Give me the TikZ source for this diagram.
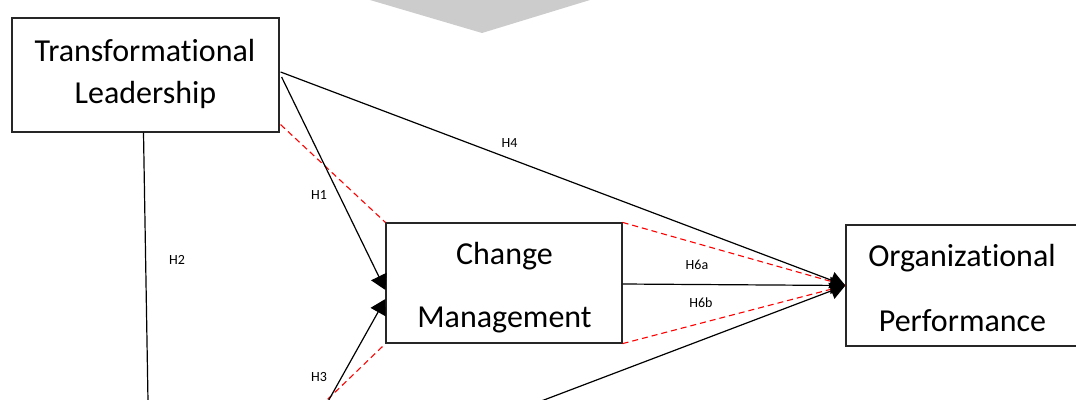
\documentclass[tikz,border=0pt]{standalone}
\usepackage{fontspec}
\setmainfont{Carlito}[Ligatures=NoCommon]
\usetikzlibrary{arrows.meta}
\tikzset{
  box/.style={draw=black!85, line width=1.2pt, inner sep=0pt},
  boxtext/.style={anchor=base, inner sep=0pt, font=\fontsize{32}{38}\selectfont},
  hlabel/.style={font=\fontsize{14}{16}\selectfont, text=black, inner sep=0pt},
  link/.style={draw=black, line width=1.2pt},
  arr/.style={-{Triangle[length=15pt,width=17pt]}},
  reddash/.style={draw=red, line width=1.1pt, dash pattern=on 6pt off 4pt},
  chev/.style={fill=gray!40},
}
\begin{document}
\begin{tikzpicture}[x=1pt,y=-1pt]
\useasboundingbox (0,0) rectangle (1076,399);
\clip (0,0) rectangle (1076,399);
% grey chevron at the top
\fill[chev] (359.8,-3) -- (482,33) -- (599.8,-3) -- cycle;
% boxes
\node[box, minimum width=267pt, minimum height=114pt] (tl) at (145.5,75) {};
\node[box, minimum width=236pt, minimum height=120pt] (cm) at (504,283) {};
\node[box, minimum width=234pt, minimum height=121pt] (op) at (963,285.5) {};
% box texts
\node[boxtext] (tl1) at (145,61) {Transformational};
\node[boxtext] (tl2) at (145.5,103) {Leadership};
\node[boxtext] (cm1) at (504.5,264) {Change};
\node[boxtext] (cm2) at (504.5,327) {Management};
\node[boxtext] (op1) at (962,266) {Organizational};
\node[boxtext] (op2) at (962.5,331) {Performance};
% free ends below the picture
\coordinate (h2end) at (148.4,425);
\coordinate (h3start) at (323.2,410);
\coordinate (rdend) at (316.5,410);
\coordinate (h5start) at (504.4,415);
% red dashed lines
\draw[reddash] ([shift={(1,-8)}]tl.south east) -- (cm.north west);
\draw[reddash] (cm.north east) -- (op.west);
\draw[reddash] (cm.south east) -- (op.west);
\draw[reddash] ([shift={(-3,3)}]cm.south west) -- (rdend);
% black connectors
\draw[link] ([shift={(-2,0)}]tl.south) -- (h2end);
\draw[link,arr] ([shift={(1,-3)}]tl.east) -- (op.west);
\draw[link,arr] ([shift={(2,2)}]tl.east) -- ([shift={(0,7)}]cm.west);
\draw[link,arr] (h3start) -- ([shift={(0,16)}]cm.west);
\draw[link,arr] ([shift={(0,1)}]cm.east) -- (op.west);
\draw[link,arr] (h5start) -- (op.west);
% labels
\node[hlabel] (lh1) at (319,195) {H1};
\node[hlabel] (lh2) at (177,260) {H2};
\node[hlabel] (lh3) at (319,377) {H3};
\node[hlabel] (lh4) at (509.5,143) {H4};
\node[hlabel] (lh6a) at (697,265) {H6a};
\node[hlabel] (lh6b) at (701,303) {H6b};
\end{tikzpicture}
\end{document}
